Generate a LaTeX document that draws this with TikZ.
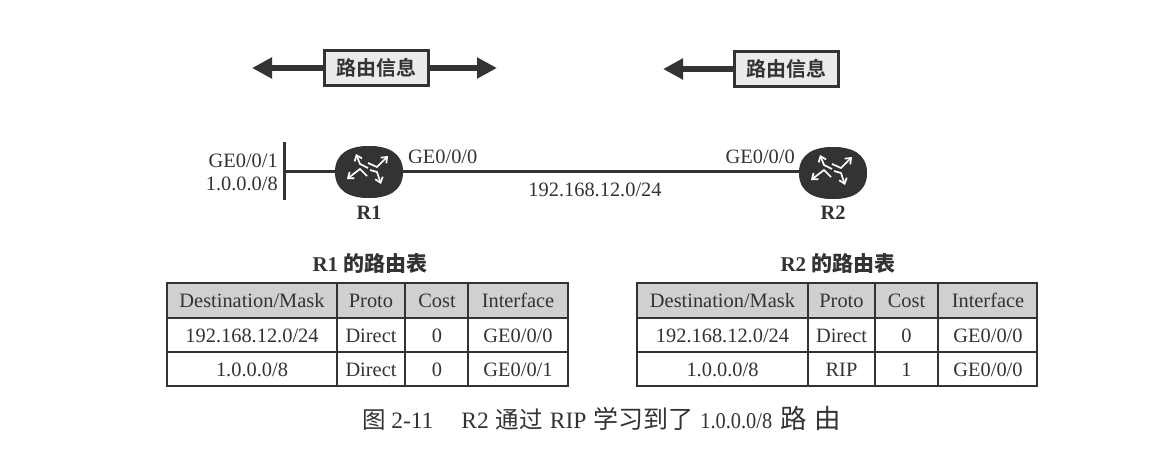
\documentclass[tikz,border=0pt]{standalone}
\usepackage{fontspec}
\setmainfont{Liberation Serif}
\newfontfamily\cjk{Noto Sans CJK SC}
\newfontfamily\cjkb{Noto Sans CJK SC Bold}
\newfontfamily\narrowserif[FakeStretch=0.9]{Liberation Serif}
\usetikzlibrary{arrows.meta,calc,shapes.geometric}
\definecolor{ink}{HTML}{333333}
\definecolor{headfill}{HTML}{D0D0D0}
\definecolor{boxfill}{HTML}{EBEBEB}
\tikzset{
  x=1pt,y=-1pt,
  txt/.style={font=\fontsize{20.4}{22}\selectfont,text=ink,inner sep=0pt},
  cell/.style={font=\fontsize{20.4}{22}\selectfont,text=ink,inner sep=0pt,anchor=center,text height=14pt,text depth=4pt},
  infobox/.style={draw=ink,line width=3pt,fill=boxfill,minimum width=104pt,minimum height=35pt,inner sep=0pt,font=\cjkb\fontsize{20}{22}\selectfont,text=ink},
  fatarrow/.style={draw=ink,line width=6.5pt,-{Triangle[length=20pt,width=20pt,fill=ink]}},
  link/.style={draw=ink,line width=3pt},
  router/.style={ellipse,fill=ink,minimum width=68pt,minimum height=52pt,inner sep=0pt},
  cross/.style={draw=white,line width=1.7pt,-{Straight Barb[length=5pt,width=8pt]}},
  rule/.style={draw=ink,line width=2pt},
  title/.style={font=\fontsize{21}{23}\selectfont\bfseries,text=ink,inner sep=0pt},
}
\newcommand{\routerbody}[1]{%
  \fill[ink] ($(#1)+(-34,0)$) .. controls ($(#1)+(-34,-20)$) and ($(#1)+(-18,-26)$) .. ($(#1)+(0,-26)$)
    .. controls ($(#1)+(18,-26)$) and ($(#1)+(34,-20)$) .. ($(#1)+(34,0)$)
    .. controls ($(#1)+(34,20)$) and ($(#1)+(18,26)$) .. ($(#1)+(0,26)$)
    .. controls ($(#1)+(-18,26)$) and ($(#1)+(-34,20)$) .. ($(#1)+(-34,0)$) -- cycle;
}
\newcommand{\routermark}[1]{%
  \draw[cross] ($(#1)+(-1,-4)$) -- ($(#1)+(-9,-8)$) -- ($(#1)+(-13,-18)$);
  \draw[cross] ($(#1)+(-1,-9)$) -- ($(#1)+(8,-5)$) -- ($(#1)+(19,-16)$);
  \draw[cross] ($(#1)+(-2,4)$) -- ($(#1)+(-9,-3)$) -- ($(#1)+(-22,7)$);
  \draw[cross] ($(#1)+(1,-2)$) -- ($(#1)+(8,0)$) -- ($(#1)+(12,12)$);
}
\newcommand{\rtable}[5]{%
  \fill[headfill] (#1,283) rectangle (#5,318);
  \draw[rule] (#1,283) rectangle (#5,386);
  \draw[rule] (#1,318) -- (#5,318);
  \draw[rule] (#1,352) -- (#5,352);
  \draw[rule] (#2,283) -- (#2,386);
  \draw[rule] (#3,283) -- (#3,386);
  \draw[rule] (#4,283) -- (#4,386);
}
\begin{document}
\begin{tikzpicture}
\useasboundingbox (0,0) rectangle (1176,461);
\fill[white] (0,0) rectangle (1176,461);
\node[infobox] (b1) at (376.5,68) {路由信息};
\node[infobox] (b2) at (786,69) {路由信息};
\coordinate (t1l) at (252,68);
\coordinate (t1r) at (497,68);
\coordinate (t2l) at (663,69);
\draw[fatarrow] (b1.west) -- (t1l);
\draw[fatarrow] (b1.east) -- (t1r);
\draw[fatarrow] (b2.west) -- (t2l);
\coordinate (ntop) at (284,142);
\coordinate (nbot) at (284,200);
\coordinate (nmid) at (284,171);
\node[router] (r1) at (369,172) {};
\node[router] (r2) at (833,173) {};
\draw[link] (ntop) -- (nbot);
\draw[link] (nmid) -- (r1.west |- nmid);
\draw[link] (r1.east |- nmid) -- (r2.west |- nmid);
\routerbody{r1}
\routerbody{r2}
\routermark{r1}
\routermark{r2}
\node[txt,anchor=east] (l1) at (278,161) {GE0/0/1};
\node[txt,anchor=east] (l2) at (278,184) {1.0.0.0/8};
\node[txt,anchor=west] (l3) at (408,157) {GE0/0/0};
\node[txt,anchor=east] (l4) at (795,157) {GE0/0/0};
\node[txt] (l5) at (595,190) {192.168.12.0/24};
\node[txt,font=\bfseries\fontsize{20.4}{22}\selectfont] (n1) at (369,213) {R1};
\node[txt,font=\bfseries\fontsize{20.4}{22}\selectfont] (n2) at (833,213) {R2};
\node[title] (t1) at (370,264) {R1 {\cjkb 的路由表}};
\node[title] (t2) at (838,264) {R2 {\cjkb 的路由表}};
\rtable{167}{337}{405}{468}{568}
\rtable{637}{808}{875}{938}{1037}
\foreach \y/\a/\b/\c/\d [count=\i] in {302.5/Destination\slash Mask/Proto/Cost/Interface,337/192.168.12.0\slash 24/Direct/0/GE0\slash 0\slash 0,371/1.0.0.0\slash 8/Direct/0/GE0\slash 0\slash 1}{
  \node[cell] (a\i) at (252,\y) {\a};
  \node[cell] (b\i) at (371,\y) {\b};
  \node[cell] (c\i) at (437,\y) {\c};
  \node[cell] (d\i) at (518,\y) {\d};
}
\foreach \y/\a/\b/\c/\d [count=\i] in {302.5/Destination\slash Mask/Proto/Cost/Interface,337/192.168.12.0\slash 24/Direct/0/GE0\slash 0\slash 0,371/1.0.0.0\slash 8/RIP/1/GE0\slash 0\slash 0}{
  \node[cell] (e\i) at (722.5,\y) {\a};
  \node[cell] (f\i) at (841.5,\y) {\b};
  \node[cell] (g\i) at (906.5,\y) {\c};
  \node[cell] (h\i) at (988,\y) {\d};
}
\node[txt,font=\fontsize{23.5}{24}\selectfont] (cap) at (602,418) {{\cjk 图}\hspace{5pt}2-11\hspace{28pt}R2\hspace{7pt}{\cjk 通过}\hspace{7pt}RIP\hspace{7pt}{\cjk\fontsize{25}{24}\selectfont 学习到了}\hspace{7pt}{\narrowserif\fontsize{22.6}{24}\selectfont 1.0.0.0/8}\hspace{8pt}{\cjk\fontsize{26.5}{24}\selectfont 路\hspace{8pt}由}};
\end{tikzpicture}
\end{document}
